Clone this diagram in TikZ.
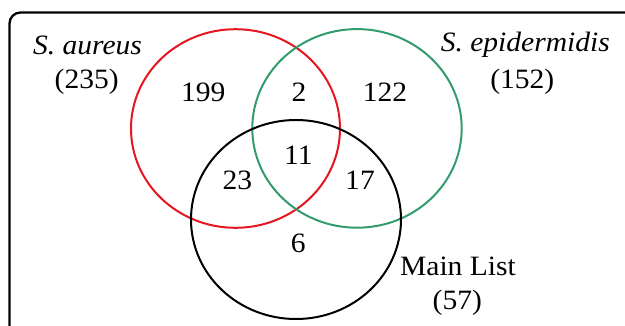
\documentclass[tikz,border=0pt]{standalone}
\usepackage{fontspec}
\setmainfont[FakeStretch=1.055]{Liberation Serif}
\definecolor{aureusred}{RGB}{230,22,32}
\definecolor{epigreen}{RGB}{50,156,108}
\tikzset{
  setline/.style={line width=2pt},
  lbl/.style={font=\fontsize{28}{32}\selectfont, inner sep=0pt}
}
\begin{document}
\begin{tikzpicture}[x=1pt,y=-1pt]
\useasboundingbox (0,0) rectangle (625,325);
\clip (0,0) rectangle (625,325);
\draw[line width=2.3pt,rounded corners=11pt] (9.5,340) |- (640,12.5);
\draw[setline,aureusred] (235.5,128.5) ellipse [x radius=104.5,y radius=99.3];
\draw[setline,epigreen] (357,128.4) ellipse [x radius=104.7,y radius=99.3];
\draw[setline,black] (296,219.5) ellipse [x radius=105,y radius=99.5];
\node[lbl] (saname) at (87.5,45) {\textit{S. aureus}};
\node[lbl] (satot) at (86.7,82) {(235)};
\node[lbl] (sename) at (525.3,45) {\textit{S. epidermidis}};
\node[lbl] (setot) at (522.3,82) {(152)};
\node[lbl] (mlname) at (458,266) {Main List};
\node[lbl] (mltot) at (457.3,303) {(57)};
\node[lbl] (aonly) at (203.3,92) {199};
\node[lbl] (aande) at (299,92) {2};
\node[lbl] (eonly) at (385,92.5) {122};
\node[lbl] (allthree) at (298.3,155) {11};
\node[lbl] (aandm) at (237.3,180.5) {23};
\node[lbl] (eandm) at (360,180) {17};
\node[lbl] (monly) at (298.3,243) {6};
\end{tikzpicture}
\end{document}
